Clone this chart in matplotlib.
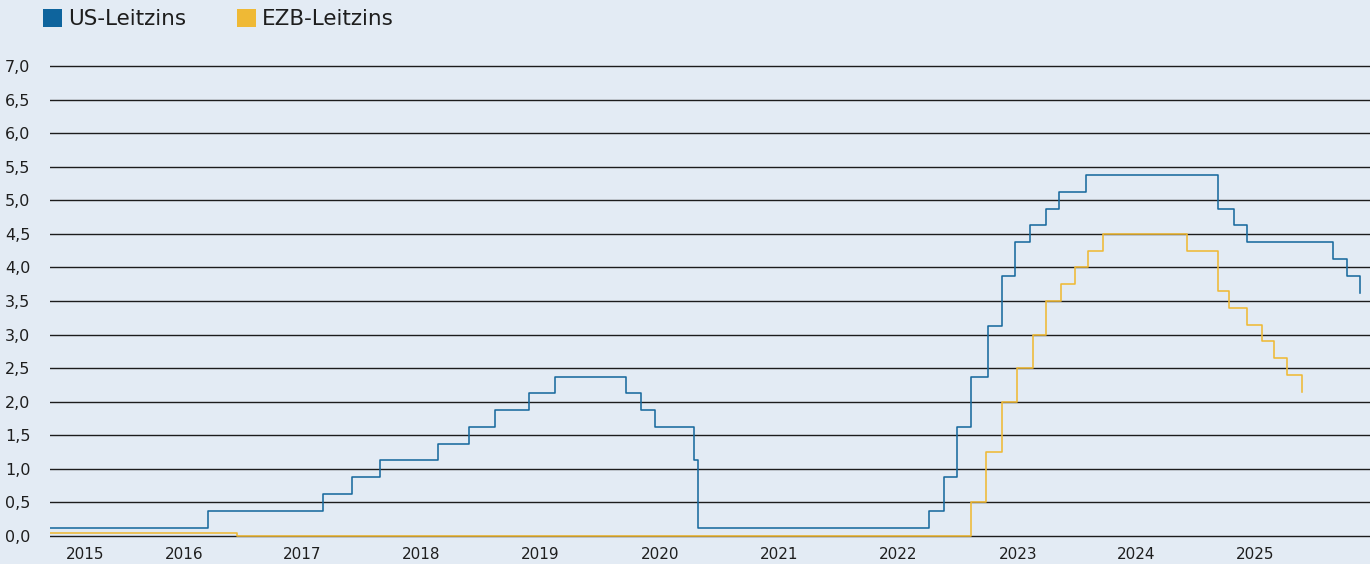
import matplotlib
matplotlib.use("Agg")
import matplotlib.pyplot as plt
from matplotlib.patches import Patch
import pandas as pd

plt.rcParams['font.family'] = ['DejaVu Sans']

# ---------------- data ----------------
us_dates = ["2014-08-03", "2015-12-16", "2016-12-14", "2017-03-15", "2017-06-14",
            "2017-12-13", "2018-03-21", "2018-06-13", "2018-09-26", "2018-12-19",
            "2019-07-31", "2019-09-18", "2019-10-30", "2020-03-03", "2020-03-15",
            "2022-03-16", "2022-05-04", "2022-06-15", "2022-07-27", "2022-09-21",
            "2022-11-02", "2022-12-14", "2023-02-01", "2023-03-22", "2023-05-03",
            "2023-07-26", "2024-09-18", "2024-11-07", "2024-12-18", "2025-09-17",
            "2025-10-29", "2025-12-10"]
us_rates = [0.125, 0.375, 0.625, 0.875, 1.125,
            1.375, 1.625, 1.875, 2.125, 2.375,
            2.125, 1.875, 1.625, 1.125, 0.125,
            0.375, 0.875, 1.625, 2.375, 3.125,
            3.875, 4.375, 4.625, 4.875, 5.125,
            5.375, 4.875, 4.625, 4.375, 4.125,
            3.875, 3.625]

ecb_dates = ["2014-08-03", "2016-03-16", "2022-07-27", "2022-09-14", "2022-11-02",
             "2022-12-21", "2023-02-08", "2023-03-22", "2023-05-10", "2023-06-21",
             "2023-08-02", "2023-09-20", "2024-06-12", "2024-09-18", "2024-10-23",
             "2024-12-18", "2025-02-05", "2025-03-12", "2025-04-23", "2025-06-11"]
ecb_rates = [0.05, 0.00, 0.50, 1.25, 2.00,
             2.50, 3.00, 3.50, 3.75, 4.00,
             4.25, 4.50, 4.25, 3.65, 3.40,
             3.15, 2.90, 2.65, 2.40, 2.15]

year_labels = ["2015", "2016", "2017", "2018", "2019", "2020",
               "2021", "2022", "2023", "2024", "2025"]
year_label_pos = [2014.893, 2015.751, 2016.773, 2017.805, 2018.836, 2019.876,
                  2020.907, 2021.938, 2022.978, 2024.000, 2025.032]

y_ticks = [0.0, 0.5, 1.0, 1.5, 2.0, 2.5, 3.0, 3.5, 4.0, 4.5, 5.0, 5.5, 6.0, 6.5, 7.0]

series_names = ["US-Leitzins", "EZB-Leitzins"]


def to_decimal_year(dates):
    d = pd.to_datetime(pd.Series(dates))
    days = d.dt.is_leap_year.map({True: 366, False: 365})
    return (d.dt.year + (d.dt.dayofyear - 1) / days).to_numpy()


us_x = to_decimal_year(us_dates)
ecb_x = to_decimal_year(ecb_dates)

# ---------------- style ----------------
BG = "#e3ebf4"
BLUE = "#1a6a9e"
YELLOW = "#efb935"
GRID = "#1c1c1c"

W, H = 1370, 564
fig = plt.figure(figsize=(W / 100, H / 100), dpi=100, facecolor=BG)

ymin, ymax = -0.08, 7.08
px_per_unit = 470 / 7.0
ax_bottom_px = 536 + (0 - ymin) * px_per_unit
ax_top_px = 66 - (ymax - 7.0) * px_per_unit
ax = fig.add_axes([50 / W, (H - ax_bottom_px) / H, 1320 / W, (ax_bottom_px - ax_top_px) / H])
ax.set_facecolor(BG)

ax.step(us_x, us_rates, where="post", color=BLUE, lw=1.15, zorder=3)
ax.step(ecb_x, ecb_rates, where="post", color=YELLOW, lw=1.15, zorder=3)

ax.set_xlim(us_x[0], 2026.028)
ax.set_ylim(ymin, ymax)

ax.set_yticks(y_ticks)
ax.set_yticklabels([f"{v:.1f}".replace(".", ",") for v in y_ticks])
ax.set_xticks(year_label_pos)
ax.set_xticklabels(year_labels)

ax.grid(axis="y", color=GRID, lw=1.0, zorder=1)
ax.grid(axis="x", visible=False)
for s in ax.spines.values():
    s.set_visible(False)
ax.tick_params(axis="y", length=0, pad=14, labelsize=11.5, labelcolor="#1e1e1e")
ax.tick_params(axis="x", length=0, pad=4, labelsize=11, labelcolor="#1e1e1e")

handles = [Patch(facecolor="#0e649d", edgecolor="none"),
           Patch(facecolor=YELLOW, edgecolor="none")]
fig.legend(handles, series_names, loc="upper left",
           bbox_to_anchor=(43 / W, 1 - 9 / H), ncol=2, frameon=False,
           fontsize=15.5, handlelength=0.88, handleheight=0.88,
           handletextpad=0.28, columnspacing=2.35, borderpad=0,
           borderaxespad=0, labelcolor="#1e1e1e")

fig.savefig("out.png", dpi=100, facecolor=BG)
